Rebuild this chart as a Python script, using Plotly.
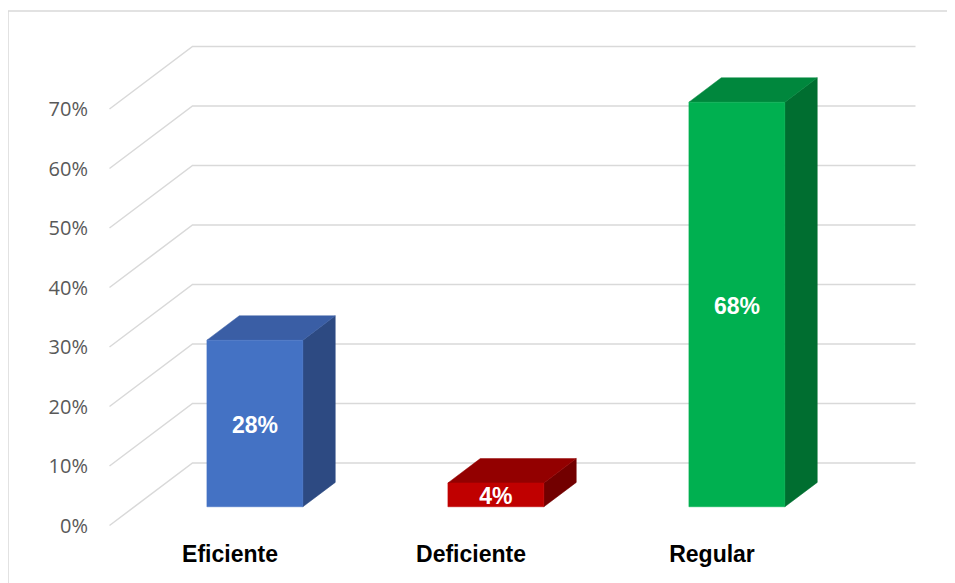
import plotly.graph_objects as go

# ---- data ----
categories = ["Eficiente", "Deficiente", "Regular"]
values = [28, 4, 68]
value_labels = ["28%", "4%", "68%"]
tick_values = [0, 10, 20, 30, 40, 50, 60, 70]
tick_labels = ["0%", "10%", "20%", "30%", "40%", "50%", "60%", "70%"]

# ---- styling / projection ----
front_colors = ["#4472C4", "#C00000", "#00B050"]
top_colors = ["#3A5EA5", "#930000", "#00873D"]
side_colors = ["#2D4A82", "#720000", "#006E30"]
grid_color = "#D9D9D9"

OFF = 8                      # page body margin compensation
W, H = 955 - OFF, 583 - OFF
ML, MR, MT, MB = 95 - OFF, 0, 0, 45
PX_PER_CAT = 241.0      # px per category on front plane
PX_PER_PCT = 5.95       # px per % on front plane
X0_PX = 230.0 - OFF     # px of category 0 on front plane
Y0_PX = 525.5 - OFF     # px of 0% on front plane
DEPTH_DX = 83.0 / PX_PER_CAT   # full depth offset (category units)
DEPTH_DY = 62.5 / PX_PER_PCT   # full depth offset (% units)
T0, T1 = 0.30, 0.69            # bar depth span
HALF_W = 48.0 / PX_PER_CAT     # bar half width
LABEL_NUDGE = -3.5 / PX_PER_PCT  # small downward nudge for centred text


def proj(x, y, t):
    return x + t * DEPTH_DX, y + t * DEPTH_DY


x_range = [(ML - X0_PX) / PX_PER_CAT, (W - MR - X0_PX) / PX_PER_CAT]
y_range = [(Y0_PX - (H - MB)) / PX_PER_PCT, (Y0_PX - MT) / PX_PER_PCT]

fig = go.Figure()

# gridlines: side wall diagonal + back wall horizontal
x_left = -0.5
x_right = len(categories) - 0.5
gx, gy = [], []
for v in tick_values:
    a = proj(x_left, v, 0)
    b = proj(x_left, v, 1)
    c = proj(x_right, v, 1)
    gx += [a[0], b[0], c[0], None]
    gy += [a[1], b[1], c[1], None]
fig.add_trace(go.Scatter(x=gx, y=gy, mode="lines",
                         line=dict(color=grid_color, width=1.5),
                         hoverinfo="skip", showlegend=False))


def poly(pts, color):
    xs = [p[0] for p in pts] + [pts[0][0]]
    ys = [p[1] for p in pts] + [pts[0][1]]
    fig.add_trace(go.Scatter(x=xs, y=ys, mode="lines", fill="toself",
                             fillcolor=color, line=dict(color=color, width=0.5),
                             hoverinfo="skip", showlegend=False))


for i, v in enumerate(values):
    l, r = i - HALF_W, i + HALF_W
    # side face
    poly([proj(r, 0, T0), proj(r, v, T0), proj(r, v, T1), proj(r, 0, T1)], side_colors[i])
    # top face
    poly([proj(l, v, T0), proj(r, v, T0), proj(r, v, T1), proj(l, v, T1)], top_colors[i])
    # front face
    poly([proj(l, 0, T0), proj(r, 0, T0), proj(r, v, T0), proj(l, v, T0)], front_colors[i])

# data labels
lx, ly = [], []
for i, v in enumerate(values):
    cx, cy = proj(i, v / 2.0, T0)
    lx.append(cx)
    ly.append(cy + LABEL_NUDGE)
fig.add_trace(go.Scatter(x=lx, y=ly, mode="text", text=value_labels,
                         textposition="middle center",
                         textfont=dict(family="Liberation Sans", size=23, color="white", weight="bold"),
                         hoverinfo="skip", showlegend=False))

# chart border (right/bottom edges fall outside the visible page)
PW, PH = W - ML - MR, H - MT - MB
fig.add_shape(type="rect", xref="paper", yref="paper",
              x0=(0 - ML) / PW, x1=(W + 20 - ML) / PW,
              y0=(H - MB - (H + 20)) / PH, y1=(H - MB - 3) / PH,
              line=dict(color=grid_color, width=1.5), layer="below")

fig.update_layout(
    width=W, height=H,
    margin=dict(l=ML, r=MR, t=MT, b=MB),
    paper_bgcolor="white", plot_bgcolor="white",
    hovermode=False,
    xaxis=dict(range=x_range, tickvals=list(range(len(categories))), ticktext=categories,
               showgrid=False, zeroline=False, showline=False, ticks="",
               tickfont=dict(family="Liberation Sans", size=23, color="black", weight="bold"),
               ticklabelstandoff=0, fixedrange=True),
    yaxis=dict(range=y_range, tickvals=tick_values, ticktext=tick_labels,
               showgrid=False, zeroline=False, showline=False, ticks="",
               tickfont=dict(family="Open Sans", size=20, color="#595959"),
               ticklabelstandoff=6, fixedrange=True),
)

fig.write_html("out.html")
